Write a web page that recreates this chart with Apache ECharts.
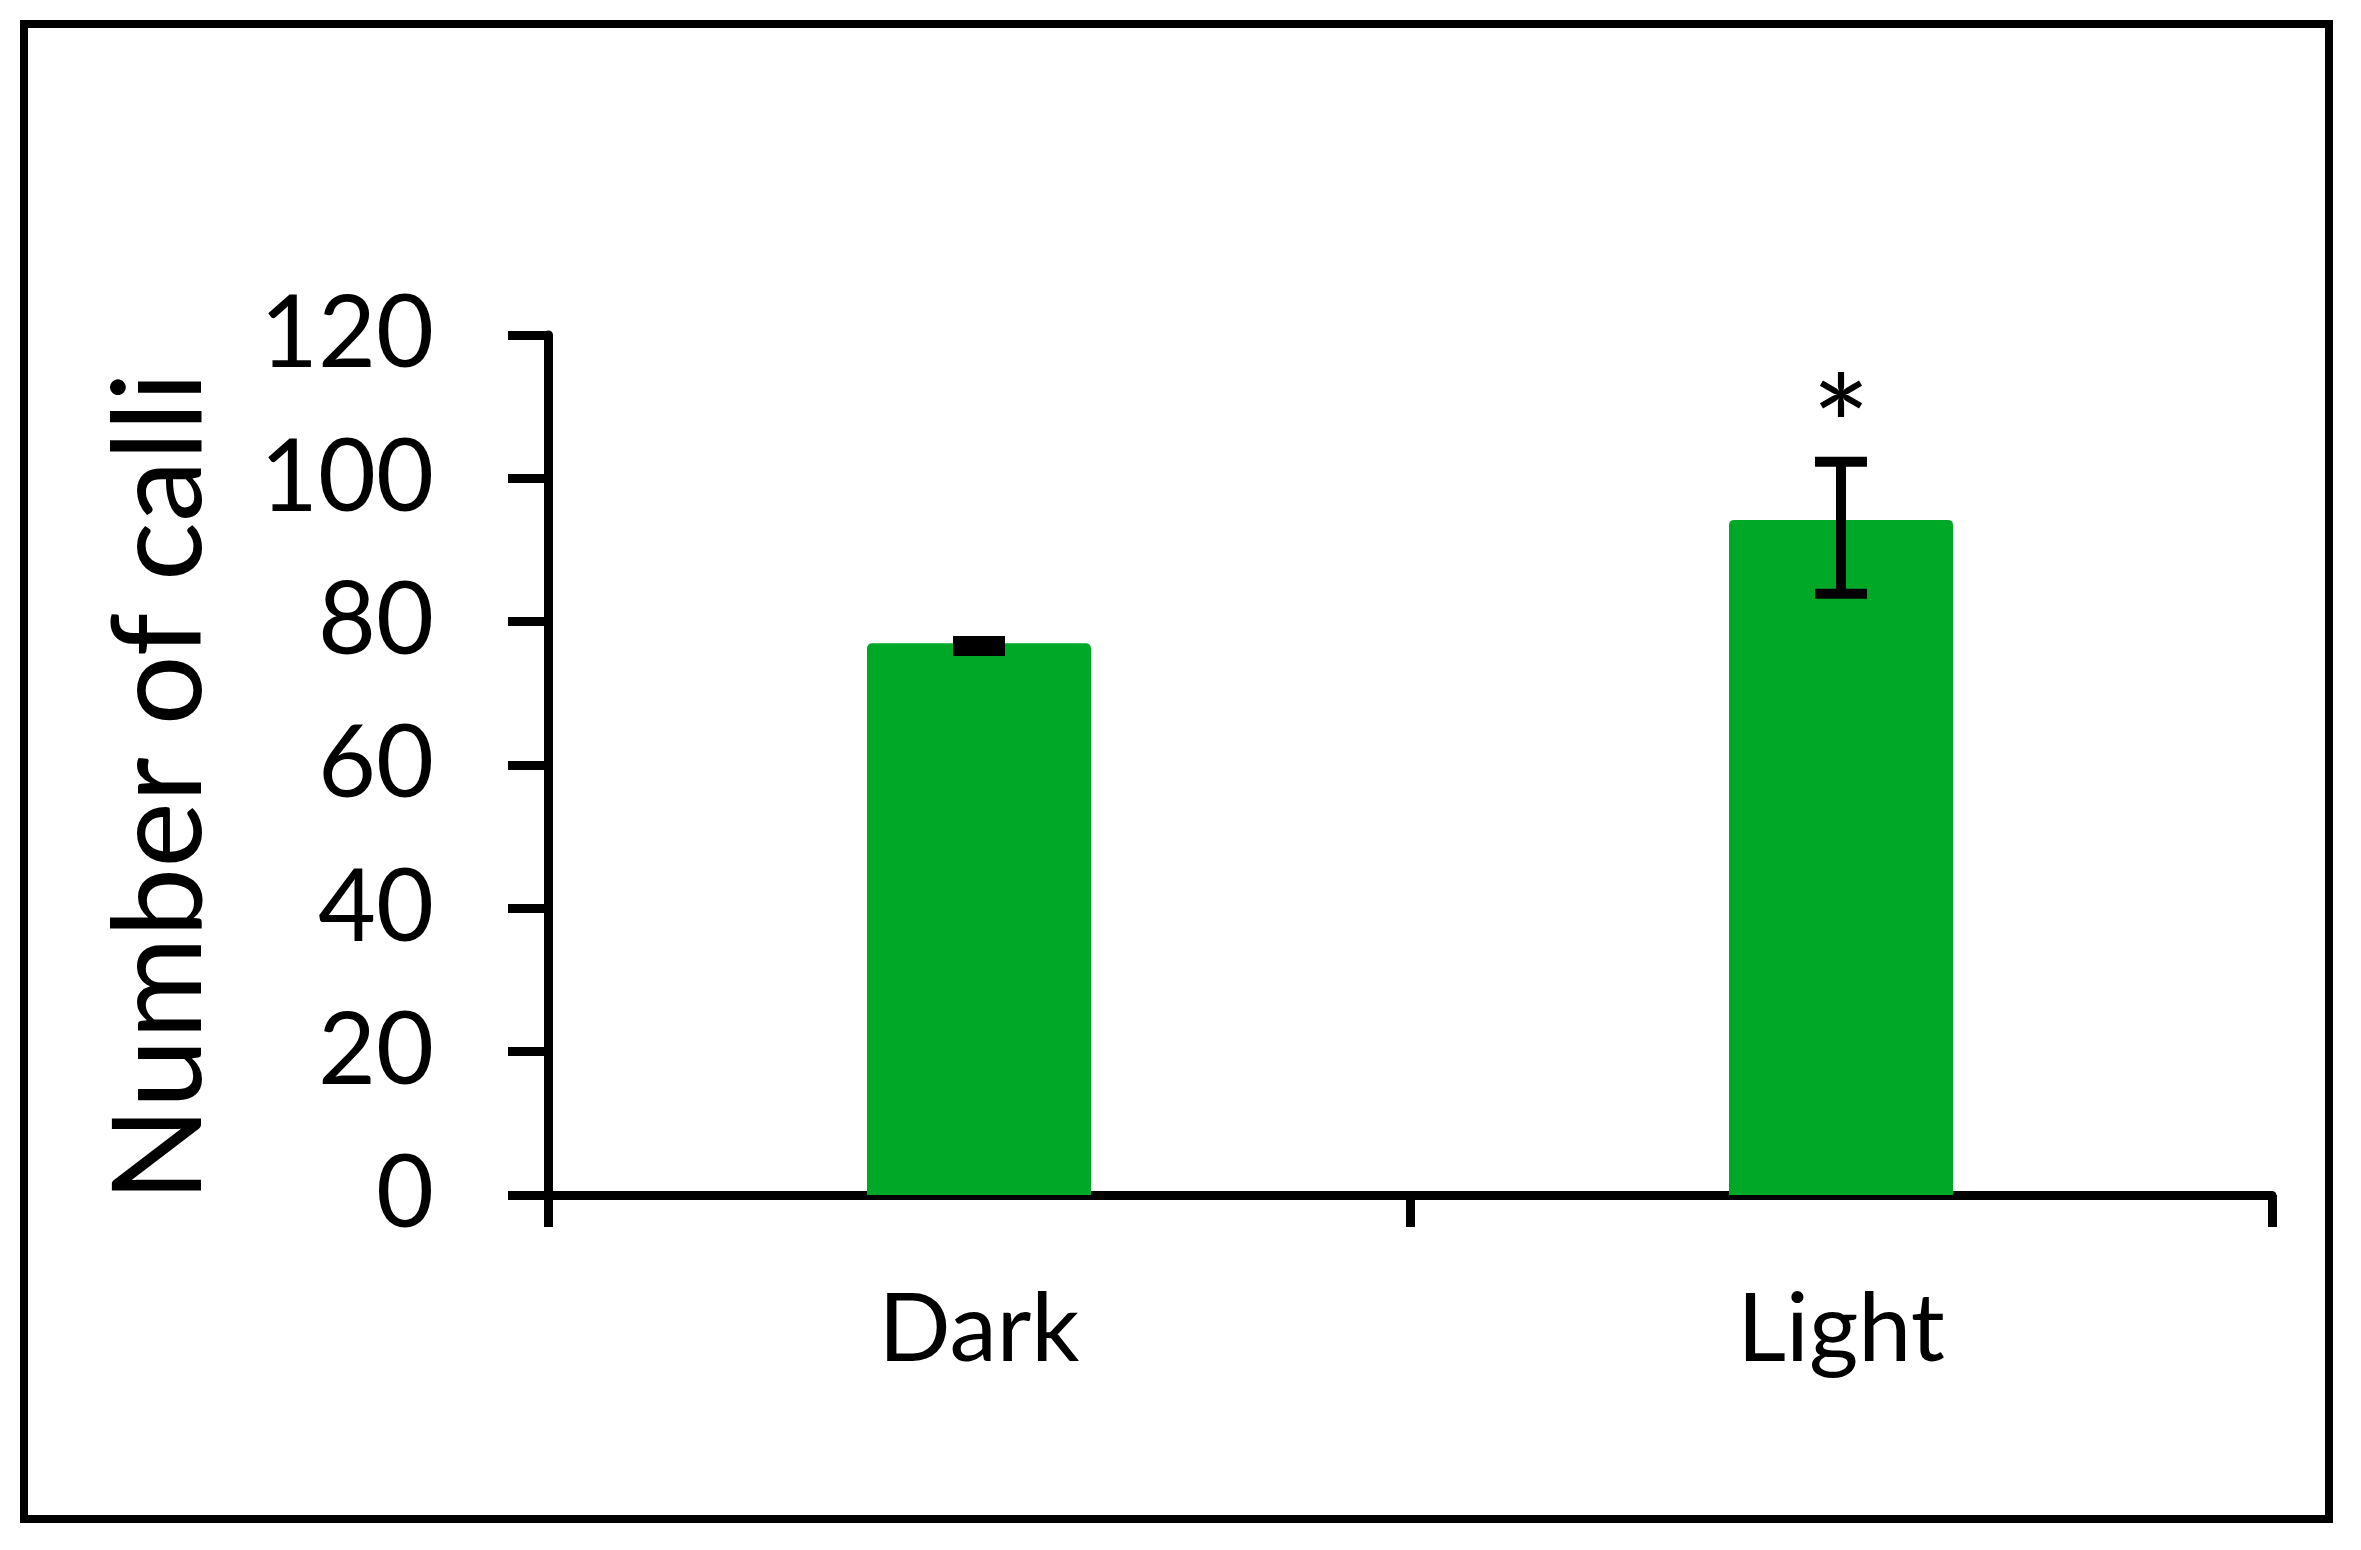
<!DOCTYPE html>
<html>
<head>
<meta charset="utf-8">
<script src="https://cdn.jsdelivr.net/npm/echarts@6/dist/echarts.min.js"></script>
<style>
  html, body { margin: 0; padding: 0; background: #fff; }
  #chart { width: 2361px; height: 1550px; }
</style>
</head>
<body>
<div id="chart"></div>
<script>
// ---- data ----
const categories = ['Dark', 'Light'];
const means = [77, 94.2];
const errLow = [75.9, 83.9];
const errHigh = [77.3, 102.3];
const sigMarks = ['', '*'];
const yTicks = { min: 0, max: 120, interval: 20 };
const yTitle = 'Number of calli';

const FONT = 'Lato';
const chart = echarts.init(document.getElementById('chart'), null, { renderer: 'canvas' });

const errData = categories.map((c, i) => [i, errLow[i], errHigh[i], sigMarks[i]]);

const option = {
  backgroundColor: '#ffffff',
  animation: false,
  graphic: [{
    type: 'rect',
    shape: { x: 24, y: 24, width: 2305, height: 1495 },
    style: { fill: 'none', stroke: '#000', lineWidth: 8 },
    silent: true
  }],
  grid: {
    left: 548, right: 89, top: 335, bottom: 355,
    containLabel: false,
    outerBoundsMode: 'none'
  },
  xAxis: {
    type: 'category',
    data: categories,
    boundaryGap: true,
    axisLine: { show: true, lineStyle: { color: '#000', width: 9 } },
    axisTick: { show: true, inside: false, length: 32, alignWithLabel: false, lineStyle: { color: '#000', width: 9 } },
    axisLabel: { color: '#000', fontSize: 95, fontFamily: FONT, margin: 88 },
    splitLine: { show: false }
  },
  yAxis: {
    type: 'value',
    min: yTicks.min, max: yTicks.max, interval: yTicks.interval,
    name: yTitle,
    nameLocation: 'middle',
    nameRotate: 90,
    nameGap: 325,
    nameTextStyle: { color: '#000', fontSize: 124, fontFamily: FONT, padding: [0, 44, 0, 0] },
    axisLine: { show: true, lineStyle: { color: '#000', width: 9 } },
    axisTick: { show: true, inside: false, length: 40, lineStyle: { color: '#000', width: 9 } },
    axisLabel: { color: '#000', fontSize: 100, fontFamily: FONT, margin: 114 },
    splitLine: { show: false }
  },
  series: [
    {
      type: 'bar',
      data: means,
      barWidth: 224,
      itemStyle: { color: '#00A828', borderRadius: [5, 5, 0, 0] },
      z: 2
    },
    {
      type: 'custom',
      data: errData,
      z: 5,
      renderItem: function (params, api) {
        const x = api.coord([api.value(0), 0])[0];
        const lo = api.coord([api.value(0), api.value(1)])[1];
        const hi = api.coord([api.value(0), api.value(2)])[1];
        const hw = 26;
        const st = { stroke: '#000', lineWidth: 10, lineCap: 'butt' };
        const children = [
          { type: 'line', shape: { x1: x, y1: hi, x2: x, y2: lo }, style: st },
          { type: 'line', shape: { x1: x - hw, y1: hi, x2: x + hw, y2: hi }, style: st },
          { type: 'line', shape: { x1: x - hw, y1: lo, x2: x + hw, y2: lo }, style: st }
        ];
        const mark = sigMarks[params.dataIndex];
        if (mark) {
          children.push({
            type: 'text',
            style: {
              text: mark, x: x, y: hi - 30,
              fill: '#000', fontSize: 140, fontFamily: FONT,
              align: 'center', verticalAlign: 'middle'
            }
          });
        }
        return { type: 'group', children: children };
      }
    }
  ]
};
chart.setOption(option);
</script>
</body>
</html>
